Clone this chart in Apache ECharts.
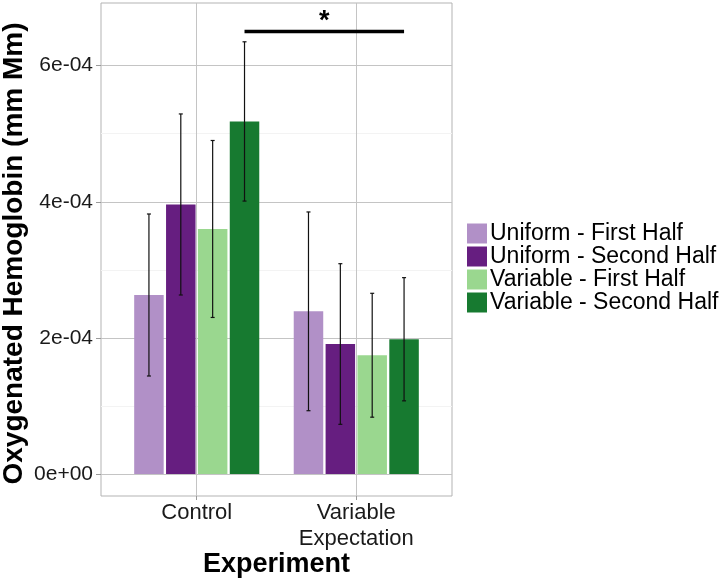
<!DOCTYPE html>
<html><head><meta charset="utf-8">
<script src="https://cdn.jsdelivr.net/npm/echarts@6/dist/echarts.min.js"></script>
<style>html,body{margin:0;padding:0;background:#fff}#c{width:725px;height:578px}</style>
</head><body><div id="c"></div>
<script>
// ---- data ----
const categories = ['Control', 'Variable\nExpectation'];
const categoryPositions = [1, 2];
const seriesNames = ['Uniform - First Half', 'Uniform - Second Half', 'Variable - First Half', 'Variable - Second Half'];
const uniformFirst = [2.63e-4, 2.39e-4];
const uniformSecond = [3.96e-4, 1.91e-4];
const variableFirst = [3.60e-4, 1.745e-4];
const variableSecond = [5.18e-4, 1.98e-4];
const uniformFirstErr = [1.19e-4, 1.46e-4];
const uniformSecondErr = [1.33e-4, 1.18e-4];
const variableFirstErr = [1.30e-4, 0.91e-4];
const variableSecondErr = [1.17e-4, 0.905e-4];
const yTicks = [0, 2e-4, 4e-4, 6e-4];
const yMinorTicks = [1e-4, 3e-4, 5e-4];
const sigSeriesIndex = 3;
const sigFromCategory = 0;
const sigToCategory = 1;
const sigY = 6.5e-4;
const sigLabel = '*';

// ---- styling ----
const colors = ['#b190c7', '#661e80', '#9ad78f', '#177a30'];
const FONT = 'Liberation Sans, Arial, Helvetica, sans-serif';
const barW = 29.5, barGapRatio = 0.08;
const values = [uniformFirst, uniformSecond, variableFirst, variableSecond];
const errs = [uniformFirstErr, uniformSecondErr, variableFirstErr, variableSecondErr];
const yMin = -0.323e-4, yMax = 6.92e-4;

function pxOffset(i) { return (i - 1.5) * barW * (1 + barGapRatio); }
function fmtSci(v) {
  return Number(v).toExponential(0).replace(/e([+-])(\d)$/, 'e$10$2');
}

const barSeries = seriesNames.map((name, i) => ({
  name, type: 'bar',
  barWidth: barW, barGap: (barGapRatio * 100) + '%',
  itemStyle: { color: colors[i] },
  data: categoryPositions.map((x, c) => [x, values[i][c]]),
  z: 2
}));

const errData = [];
seriesNames.forEach((n, i) => categoryPositions.forEach((x, c) => {
  errData.push([x, values[i][c] - errs[i][c], values[i][c] + errs[i][c], i]);
}));

const errSeries = {
  type: 'custom', name: 'err', z: 5, silent: true,
  encode: { x: 0, y: [1, 2] },
  data: errData,
  renderItem: function (params, api) {
    const x = api.coord([api.value(0), 0])[0] + pxOffset(api.value(3));
    const lo = api.coord([api.value(0), api.value(1)])[1];
    const hi = api.coord([api.value(0), api.value(2)])[1];
    const cap = 2;
    const st = { stroke: '#111', lineWidth: 1.2 };
    return { type: 'group', children: [
      { type: 'line', shape: { x1: x, y1: lo, x2: x, y2: hi }, style: st },
      { type: 'line', shape: { x1: x - cap, y1: lo, x2: x + cap, y2: lo }, style: st },
      { type: 'line', shape: { x1: x - cap, y1: hi, x2: x + cap, y2: hi }, style: st }
    ]};
  }
};

const sigSeries = {
  type: 'custom', name: 'sig', z: 6, silent: true,
  encode: { x: 0, y: 2 },
  data: [[categoryPositions[sigFromCategory], categoryPositions[sigToCategory], sigY]],
  renderItem: function (params, api) {
    const off = pxOffset(sigSeriesIndex);
    const x1 = api.coord([api.value(0), api.value(2)])[0] + off;
    const x2 = api.coord([api.value(1), api.value(2)])[0] + off;
    const y = api.coord([api.value(0), api.value(2)])[1];
    return { type: 'group', children: [
      { type: 'line', shape: { x1, y1: y, x2, y2: y }, style: { stroke: '#000', lineWidth: 3.5 } },
      { type: 'text', x: (x1 + x2) / 2, y: y - 10, style: { text: sigLabel, font: 'bold 27px ' + FONT, fill: '#000', align: 'center', verticalAlign: 'middle' } }
    ]};
  }
};

const chart = echarts.init(document.getElementById('c'), null, { renderer: 'canvas' });
chart.setOption({
  animation: false,
  backgroundColor: '#fff',
  textStyle: { fontFamily: FONT },
  grid: { left: 101, top: 3, width: 351, height: 493, show: true, borderColor: '#b3b3b3', borderWidth: 1, backgroundColor: '#fff',
    containLabel: false, outerBoundsMode: 'none' },
  legend: {
    orient: 'vertical', left: 467, top: 222, padding: 0,
    itemWidth: 20, itemHeight: 20, itemGap: 0, icon: 'rect', selectedMode: false,
    data: seriesNames,
    textStyle: { fontSize: 23, lineHeight: 20, color: '#000', fontFamily: FONT, padding: [0, 0, 0, -2] }
  },
  xAxis: {
    type: 'value', min: 0.4, max: 2.6,
    name: 'Experiment', nameLocation: 'middle', nameGap: 55, nameMoveOverlap: false,
    nameTextStyle: { fontSize: 27, fontWeight: 'bold', color: '#000', fontFamily: FONT },
    axisLine: { show: false, onZero: false },
    axisTick: { show: true, length: 4, customValues: categoryPositions, lineStyle: { color: '#9a9a9a' } },
    axisLabel: { customValues: categoryPositions, margin: 4, fontSize: 22, lineHeight: 26, color: '#1a1a1a', fontFamily: FONT,
      formatter: v => categories[categoryPositions.indexOf(Math.round(v))] },
    splitLine: { show: true, lineStyle: { color: '#c4c4c4', width: 1 } }
  },
  yAxis: [{
    type: 'value', min: yMin, max: yMax,
    name: 'Oxygenated Hemoglobin (mm Mm)', nameLocation: 'middle', nameGap: 73, nameMoveOverlap: false,
    nameTextStyle: { fontSize: 28, fontWeight: 'bold', color: '#000', fontFamily: FONT, padding: [0, 8, 0, 0] },
    axisLine: { show: false },
    axisTick: { show: true, length: 5, customValues: yTicks, lineStyle: { color: '#9a9a9a' } },
    axisLabel: { customValues: yTicks, margin: 8, fontSize: 21, color: '#1a1a1a', fontFamily: FONT, formatter: fmtSci },
    splitLine: { show: true, lineStyle: { color: '#c4c4c4', width: 1 } }
  }, {
    type: 'value', min: yMin, max: yMax, position: 'left',
    axisLine: { show: false }, axisLabel: { show: false },
    axisTick: { show: false, customValues: yMinorTicks },
    splitLine: { show: true, lineStyle: { color: '#f3f3f3', width: 1 } }
  }],
  series: barSeries.concat([errSeries, sigSeries])
});
</script></body></html>
